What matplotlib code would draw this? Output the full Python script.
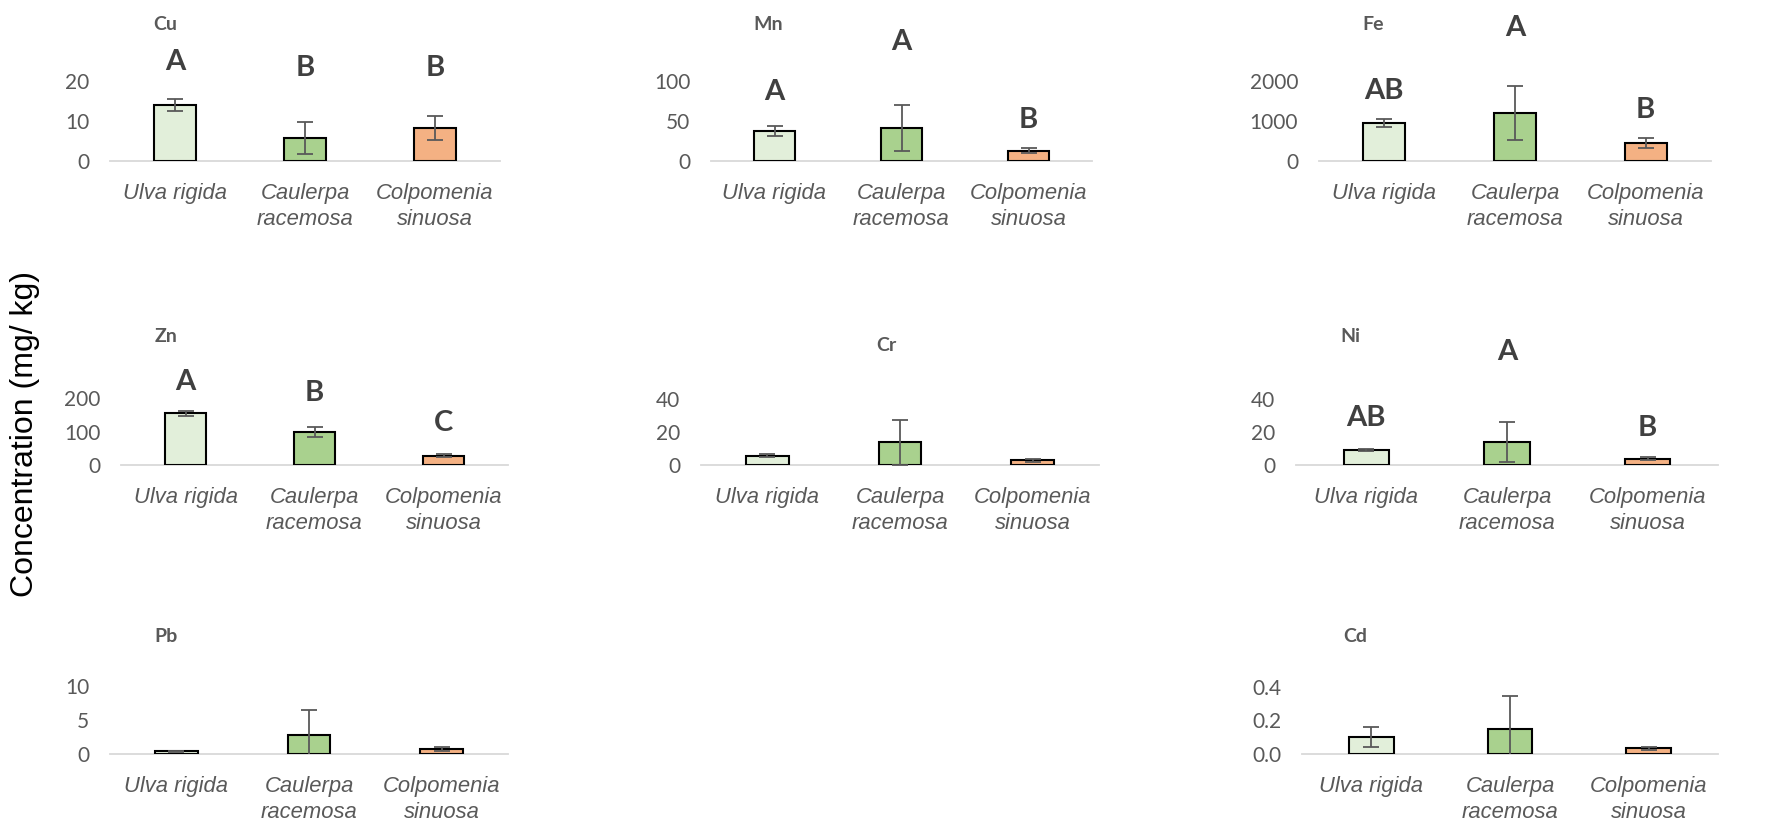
import matplotlib
matplotlib.use("Agg")
import matplotlib.pyplot as plt
from matplotlib.ticker import FormatStrFormatter

SPECIES = ["Ulva rigida", "Caulerpa\nracemosa", "Colpomenia\nsinuosa"]
BAR_COLORS = ["#E2EFDA", "#A9D18E", "#F4B183"]

CU_MEAN = [14.0, 5.7, 8.3]
CU_SD = [1.6, 4.0, 3.0]
CU_LETTERS = ["A", "B", "B"]

MN_MEAN = [37.5, 41.0, 13.0]
MN_SD = [5.8, 29.0, 3.5]
MN_LETTERS = ["A", "A", "B"]

FE_MEAN = [945, 1200, 440]
FE_SD = [95, 670, 125]
FE_LETTERS = ["AB", "A", "B"]

ZN_MEAN = [154, 99, 28]
ZN_SD = [7.5, 14, 5]
ZN_LETTERS = ["A", "B", "C"]

CR_MEAN = [5.6, 13.7, 2.8]
CR_SD = [1.0, 13.7, 0.8]

NI_MEAN = [9.3, 13.9, 3.8]
NI_SD = [0.6, 12.3, 0.8]
NI_LETTERS = ["AB", "A", "B"]

PB_MEAN = [0.4, 2.8, 0.75]
PB_SD = [0.1, 3.6, 0.3]

CD_MEAN = [0.10, 0.15, 0.034]
CD_SD = [0.06, 0.195, 0.008]

W, H = 1766, 824
GREY = "#595959"
DARK = "#404040"

# panel layout in pixels: left, right, top (= ymax), baseline
PANELS = [
    dict(name="Cu", mean=CU_MEAN, sd=CU_SD, letters=CU_LETTERS, ticks=[0, 10, 20],
         box=(110, 500, 81, 161), title=(165, 25), letter_y=[1.24, 1.16, 1.16]),
    dict(name="Mn", mean=MN_MEAN, sd=MN_SD, letters=MN_LETTERS, ticks=[0, 50, 100],
         box=(711, 1092, 81, 161), title=(768, 25), letter_y=[0.86, 1.49, 0.51]),
    dict(name="Fe", mean=FE_MEAN, sd=FE_SD, letters=FE_LETTERS, ticks=[0, 1000, 2000],
         box=(1319, 1711, 81, 161), title=(1373, 25), letter_y=[0.875, 1.66, 0.64]),
    dict(name="Zn", mean=ZN_MEAN, sd=ZN_SD, letters=ZN_LETTERS, ticks=[0, 100, 200],
         box=(121, 508, 398, 465), title=(166, 336), letter_y=[1.24, 1.07, 0.63]),
    dict(name="Cr", mean=CR_MEAN, sd=CR_SD, letters=None, ticks=[0, 20, 40],
         box=(701, 1099, 399, 465), title=(886, 346), letter_y=None),
    dict(name="Ni", mean=NI_MEAN, sd=NI_SD, letters=NI_LETTERS, ticks=[0, 20, 40],
         box=(1296, 1718, 399, 465), title=(1350, 336), letter_y=[0.71, 1.71, 0.56]),
    dict(name="Pb", mean=PB_MEAN, sd=PB_SD, letters=None, ticks=[0, 5, 10],
         box=(110, 508, 686, 754), title=(166, 637), letter_y=None),
    dict(name="Cd", mean=CD_MEAN, sd=CD_SD, letters=None, ticks=[0.0, 0.2, 0.4],
         box=(1302, 1718, 687, 754), title=(1355, 637), letter_y=None, fmt="%.1f"),
]

fig = plt.figure(figsize=(W / 100, H / 100), dpi=100)

for p in PANELS:
    left, right, top, base = p["box"]
    ax = fig.add_axes([left / W, 1 - base / H, (right - left) / W, (base - top) / H])
    x = range(len(SPECIES))
    ax.bar(x, p["mean"], width=0.32, color=BAR_COLORS, edgecolor="black",
           linewidth=1.5, zorder=3)
    ax.errorbar(x, p["mean"], yerr=p["sd"], fmt="none", ecolor=GREY,
                elinewidth=1.3, capsize=5.5, capthick=1.3, zorder=4)
    ax.set_xlim(-0.5, 2.5)
    ax.set_ylim(p["ticks"][0], p["ticks"][-1])
    ax.set_yticks(p["ticks"])
    if "fmt" in p:
        ax.yaxis.set_major_formatter(FormatStrFormatter(p["fmt"]))
    ax.set_xticks(list(x))
    ax.set_xticklabels(SPECIES, fontstyle="italic", fontsize=15.8, color=GREY,
                       family="Liberation Sans", linespacing=1.3)
    ax.tick_params(axis="x", length=0, pad=16)
    ax.tick_params(axis="y", length=0, pad=15, labelsize=15, labelcolor=GREY)
    for lab in ax.get_yticklabels():
        lab.set_family("Lato")
    for side in ["top", "right", "left"]:
        ax.spines[side].set_visible(False)
    ax.spines["bottom"].set_color("#D9D9D9")
    ax.spines["bottom"].set_linewidth(1.3)
    ax.spines["bottom"].set_zorder(2)
    ax.patch.set_alpha(0)

    tx, ty = p["title"]
    fig.text(tx / W, 1 - ty / H, p["name"], ha="center", va="center",
             fontsize=14, fontweight="bold", color=GREY, family="Lato")

    if p["letters"]:
        for i, (letter, yf) in enumerate(zip(p["letters"], p["letter_y"])):
            ax.text(i, yf, letter, transform=ax.get_xaxis_transform(), ha="center",
                    va="center", fontsize=21, fontweight="bold", color=DARK,
                    family="Lato", clip_on=False)

fig.text(25 / W, 1 - 434 / H, "Concentration (mg/ kg)", rotation=90, ha="center",
         va="center", fontsize=23, color="black", family="Liberation Sans")

fig.savefig("out.png", dpi=100, facecolor="white")
